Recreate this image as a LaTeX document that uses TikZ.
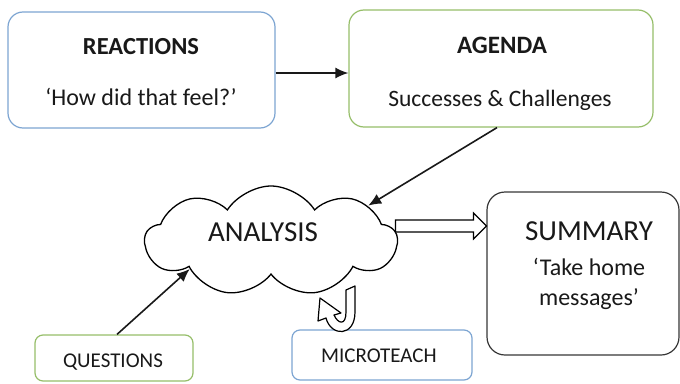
\documentclass[tikz,border=0pt]{standalone}
\usepackage{fontspec}
\setmainfont{Carlito}
\usetikzlibrary{shapes.symbols,arrows.meta,calc}
\definecolor{bblue}{RGB}{125,165,210}
\definecolor{bgreen}{RGB}{150,190,105}
\definecolor{bgray}{RGB}{55,55,55}
\definecolor{tx}{RGB}{25,25,25}
\tikzset{
  box/.style={draw, rounded corners=15pt, line width=1.2pt, fill=white, inner sep=0pt},
  lbl/.style={text=tx, inner sep=0pt, anchor=center},
  arr/.style={-{Latex[length=13pt,width=11pt]}, line width=1.6pt, black!90},
}
\newcommand{\fs}[1]{\fontsize{#1}{#1}\selectfont}
\begin{document}
\begin{tikzpicture}[x=1pt,y=-1pt]
\useasboundingbox (0,0) rectangle (680,383);
% boxes
\node[box, draw=bblue, minimum width=267pt, minimum height=116pt] (reac) at (141.5,70) {};
\node[box, draw=bgreen, minimum width=304pt, minimum height=117pt] (agenda) at (501,68.5) {};
\node[box, draw=bgray, rounded corners=18pt, minimum width=192pt, minimum height=163pt] (summ) at (583,273.5) {};
\node[box, draw=bgreen, rounded corners=8pt, minimum width=158pt, minimum height=46pt] (quest) at (114,358) {};
\node[box, draw=bblue, rounded corners=8pt, minimum width=180pt, minimum height=50pt] (micro) at (382,355) {};
% cloud
\node[cloud, draw, line width=1.3pt, fill=white, cloud puffs=9, cloud puff arc=115, aspect=2.4,
      minimum width=252pt, minimum height=110pt, inner sep=0pt] (cloud) at (271,241) {};
% labels
\node[lbl, font=\fs{24.5}\bfseries] (t1) at (141,47) {REACTIONS};
\node[lbl, font=\fs{24}] (t2) at (141,97) {‘How did that feel?’};
\node[lbl, font=\fs{25}\bfseries] (t3) at (502,45) {AGENDA};
\node[lbl, font=\fs{23.5}] (t4) at (500,100) {Successes \& Challenges};
\node[lbl, font=\fs{29}] (t5) at (263,232) {ANALYSIS};
\node[lbl, font=\fs{29}] (t6) at (589,231) {SUMMARY};
\node[lbl, font=\fs{24}] (t7) at (589,267) {‘Take home};
\node[lbl, font=\fs{24}] (t8) at (589,299) {messages’};
\node[lbl, font=\fs{21}] (t9) at (113,362) {QUESTIONS};
\node[lbl, font=\fs{21}] (t10) at (379,356) {MICROTEACH};
% connectors
\draw[arr] ([yshift=-3pt]reac.east) -- ([yshift=-4.5pt]agenda.west);
\draw[arr] ([xshift=-4pt]agenda.south) -- (cloud.20);
\draw[arr] ([xshift=3pt]quest.north) -- (cloud.199);
% hollow arrow cloud -> summary
\coordinate (ha) at ([xshift=-3pt]cloud.east |- 0,226);
\coordinate (hb) at (summ.west |- 0,226);
\draw[line width=1.2pt, fill=white] ($(ha)+(0,-6)$) -- ($(hb)+(-13,-6)$) -- ($(hb)+(-13,-13)$) -- (hb)
  -- ($(hb)+(-13,13)$) -- ($(hb)+(-13,6)$) -- ($(ha)+(0,6)$) -- cycle;
% hollow curved arrow cloud -> microteach loop
\draw[line width=1.2pt, fill=white, line join=round] (320,298) -- (341,313) -- (334,315)
  .. controls (338,324) and (346,326) .. (346,312) -- (346,290) -- (355,286) -- (355,312)
  .. controls (355,337) and (331,337) .. (326,318) -- (318,321) -- cycle;
\end{tikzpicture}
\end{document}
